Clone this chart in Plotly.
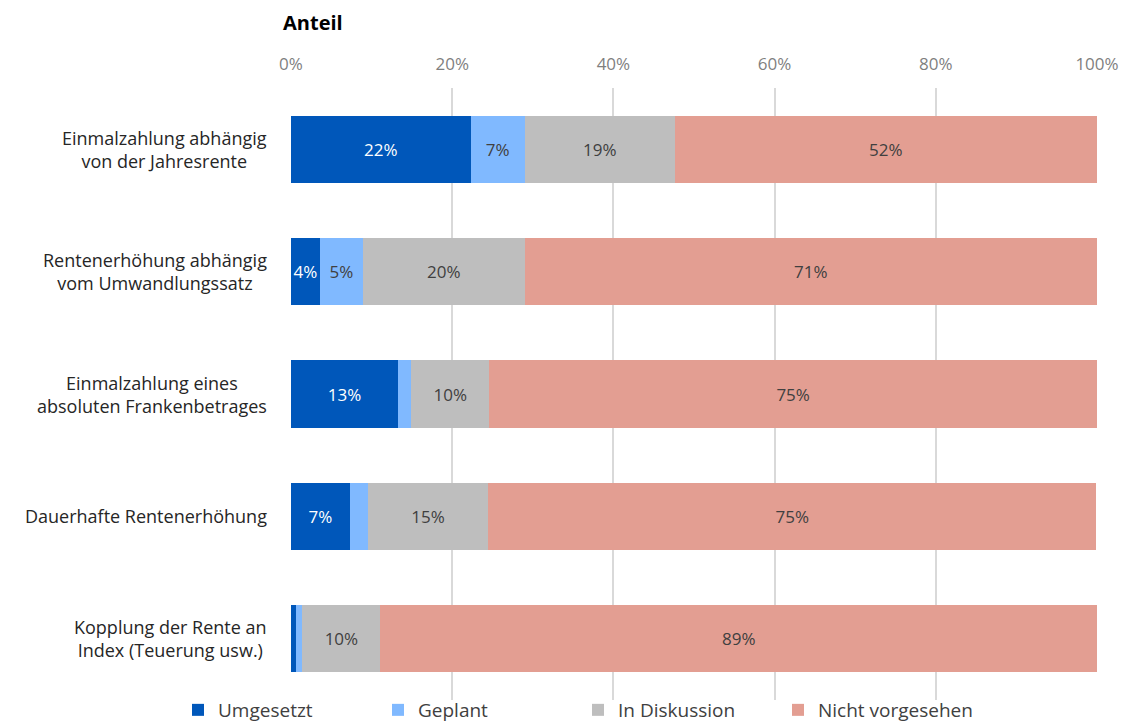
import plotly.graph_objects as go

categories = [
    "Einmalzahlung abhängig<br>von der Jahresrente",
    "Rentenerhöhung abhängig<br>vom Umwandlungssatz",
    "Einmalzahlung eines<br>absoluten Frankenbetrages",
    "Dauerhafte Rentenerhöhung",
    "Kopplung der Rente an<br>Index (Teuerung usw.)",
]
series_names = ["Umgesetzt", "Geplant", "In Diskussion", "Nicht vorgesehen"]
umgesetzt = [22.3, 3.6, 13.3, 7.3, 0.6]
geplant = [6.7, 5.3, 1.6, 2.2, 0.8]
diskussion = [18.6, 20.1, 9.7, 15.0, 9.7]
nicht = [52.4, 71.0, 75.4, 75.4, 88.9]
colors = ["#0057BA", "#80B9FF", "#BEBEBE", "#E39E92"]
text_colors = ["#FFFFFF", "#404040", "#404040", "#404040"]
tick_vals = [0, 20, 40, 60, 80, 100]

fig = go.Figure()
ypos = list(range(len(categories)))
for name, vals, col, tcol in zip(series_names, [umgesetzt, geplant, diskussion, nicht], colors, text_colors):
    labels = [f"{round(v):.0f}%" if v >= 3 else "" for v in vals]
    fig.add_trace(go.Bar(
        y=ypos, x=vals, name=name, orientation="h",
        marker=dict(color=col, line=dict(width=0)),
        text=labels, textposition="inside", insidetextanchor="middle",
        textangle=0,
        textfont=dict(color=tcol, size=17, family="Open Sans"),
        constraintext="none", cliponaxis=False,
    ))

for i, c in enumerate(categories):
    fig.add_annotation(x=0, y=i, xref="paper", yref="y", text=c, showarrow=False,
                       xanchor="right", align="center", xshift=-22,
                       font=dict(size=18, color="#262626", family="Open Sans"))

fig.add_annotation(x=(313 - 291) / 806, y=1, yref="paper", xref="paper", text="<b>Anteil</b>",
                   showarrow=False, xanchor="center", yanchor="bottom", yshift=50,
                   font=dict(size=20, color="#000000", family="Open Sans"))

fig.update_layout(
    width=1124, height=727,
    margin=dict(l=291, r=27, t=88, b=27, autoexpand=False),
    barmode="stack", bargap=0.45,
    plot_bgcolor="white", paper_bgcolor="white",
    font=dict(family="Open Sans", size=17, color="#595959"),
    xaxis=dict(side="top", range=[0, 100], tickvals=tick_vals,
               ticktext=[f"{v}%" for v in tick_vals],
               showgrid=True, gridcolor="#D9D9D9", gridwidth=2,
               zeroline=False, showline=False, ticks="", ticklabelstandoff=14,
               automargin=False,
               tickfont=dict(size=17, color="#7F7F7F")),
    yaxis=dict(range=[4.5, -0.5], showticklabels=False, showgrid=False,
               zeroline=False, showline=False, ticks="", automargin=False),
    legend=dict(orientation="h", xref="container", yref="container",
                x=(178 - 0) / 1124, xanchor="left", y=(727 - 691) / 727, yanchor="top",
                bgcolor="rgba(0,0,0,0)",
                font=dict(size=19, color="#404040"), entrywidth=155, itemwidth=30,
                traceorder="normal"),
    showlegend=True,
)
fig.write_html("out.html")
